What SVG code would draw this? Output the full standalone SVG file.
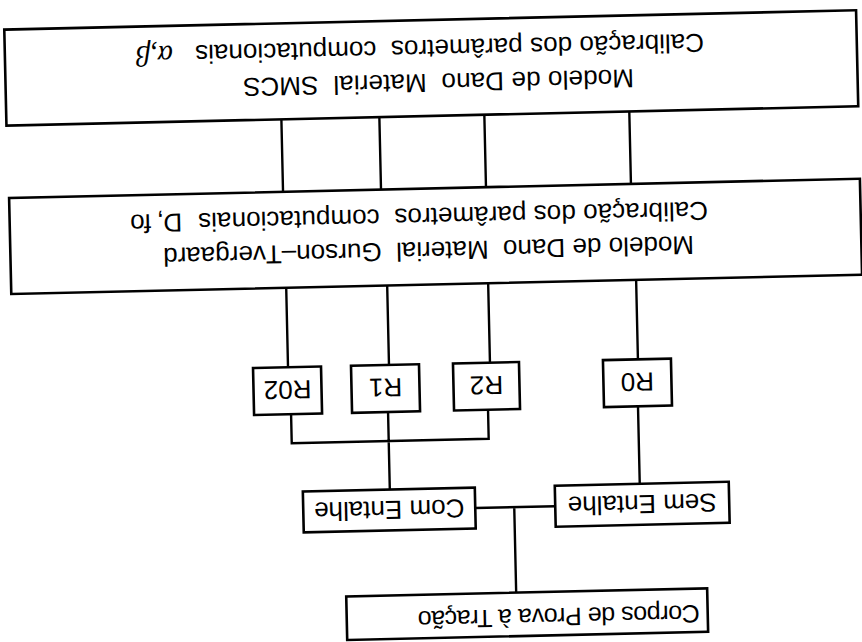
<svg xmlns="http://www.w3.org/2000/svg" width="862" height="642" viewBox="0 0 862 642">
<style>
.box{fill:#fff;stroke:#000;stroke-width:2.6}
.ln{fill:none;stroke:#000;stroke-width:2.4}
</style>
<rect width="862" height="642" fill="#fff"/>
<g transform="rotate(178.7 431 321)" fill="#000" font-size="26" font-family="Liberation Sans, Arial, sans-serif">
  <g id="connectors">
    <path class="ln" d="M576 453.5V526M478 453.5V526M373 453.5V526M228 453.5V526"/>
    <path class="ln" d="M575 278V357.5M474 278V357.5M373 278V357.5M225 278V357.5"/>
    <path class="ln" d="M573 231V202H376V231M476 231V153.5M226 231V153.5M311 133H391M352 133V47"/>
  </g>
  <g id="smcs">
    <rect class="box" x="-1" y="526" width="852" height="96"/>
    <text x="222.6" y="568" textLength="391" lengthAdjust="spacing" xml:space="preserve">Modelo de Dano  Material  SMCS</text>
    <text x="151.7" y="602" textLength="509" lengthAdjust="spacing" xml:space="preserve">Calibração dos parâmetros  computacionais</text>
    <text font-family="Liberation Serif, DejaVu Serif, serif" font-style="italic" font-size="29" x="683" y="602">α,β</text>
  </g>
  <g id="gurson">
    <rect class="box" x="-1" y="357.5" width="851" height="96"/>
    <text x="166.3" y="400" textLength="531" lengthAdjust="spacing" xml:space="preserve">Modelo de Dano  Material  Gurson–Tvergaard</text>
    <text x="151.5" y="434" textLength="510" lengthAdjust="spacing" xml:space="preserve">Calibração dos parâmetros  computacionais</text>
    <text x="677.5" y="434" textLength="52" lengthAdjust="spacing">D, fo</text>
  </g>
  <g id="r02">
    <rect class="box" x="542" y="231" width="68" height="47"/>
    <text x="576" y="264.5" text-anchor="middle">R02</text>
  </g>
  <g id="r1">
    <rect class="box" x="444" y="231" width="68" height="47"/>
    <text x="478" y="264.5" text-anchor="middle">R1</text>
  </g>
  <g id="r2">
    <rect class="box" x="344" y="231" width="66" height="47"/>
    <text x="377" y="264.5" text-anchor="middle">R2</text>
  </g>
  <g id="r0">
    <rect class="box" x="192" y="231" width="68" height="47"/>
    <text x="226" y="264.5" text-anchor="middle">R0</text>
  </g>
  <g id="com-entalhe">
    <rect class="box" x="391" y="112.5" width="172" height="41"/>
    <text x="477" y="142" text-anchor="middle">Com Entalhe</text>
  </g>
  <g id="sem-entalhe">
    <rect class="box" x="137" y="112.5" width="174" height="41"/>
    <text x="224" y="142" text-anchor="middle">Sem Entalhe</text>
  </g>
  <g id="corpos">
    <rect class="box" x="161" y="4" width="361" height="43.5"/>
    <text x="169" y="31" font-size="25" textLength="282" lengthAdjust="spacing">Corpos de Prova à Tração</text>
  </g>
</g>
</svg>
